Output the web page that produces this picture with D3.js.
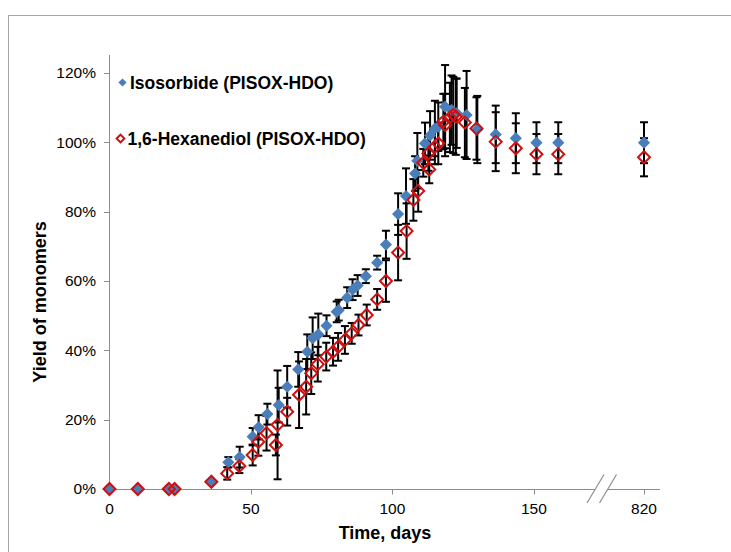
<!DOCTYPE html>
<html>
<head>
<meta charset="utf-8">
<script src="https://cdn.jsdelivr.net/npm/d3@7/dist/d3.min.js"></script>
<style>
    body { margin: 0; background: #fff; }
    #chart { width: 731px; height: 552px; }
    text { font-family: "Liberation Sans", Arial, sans-serif; }
</style>
</head>
<body>
<div id="chart"></div>
<script>
// Isosorbide (PISOX-HDO): day, yield %, error bar %
var iso_days = [0, 10, 20.5, 23, 36, 42, 46, 50.6, 52.7, 55.8, 59.8, 62.8, 66.7, 69.9, 71.8, 73.8, 76.7, 80.3, 81,
    84, 85.9, 87.7, 90.6, 94.6, 97.7, 102, 104.8, 108, 108.8, 111.5, 113.3, 115, 116.2, 118.6, 120.9, 122.7,
    126.2, 130, 136.5, 143.6, 150.9, 158.6, 820];
var iso_yield = [0, 0, 0, 0, 2, 7.7, 9.2, 15.1, 17.8, 21.6, 24.2, 29.5, 34.5, 39.6, 43.5, 44.6, 47.1, 51.1, 51.6,
    55.2, 57.5, 58.7, 61.4, 65.3, 70.5, 79.3, 84.5, 91, 94.7, 99.7, 102, 104, 104.5, 110.3, 109.3, 108.4,
    107.9, 103.7, 102.3, 101.2, 99.9, 99.9, 99.9];
var iso_err = [0, 0, 0, 0, 0, 1.5, 3, 2.5, 3.5, 3, 5, 6, 5, 5, 6, 6, 3, 3, 3,
    3, 3, 3, 2, 2, 4, 6, 8, 5, 8, 6, 7, 8, 7, 12, 10, 10,
    12.7, 9.7, 8.3, 7.2, 5.9, 5.9, 5.9];

// 1,6-Hexanediol (PISOX-HDO)
var hdo_days = [0, 10, 21, 23, 36, 41.6, 45.9, 50.6, 52.6, 55.5, 58.8, 59.4, 62.8, 67, 69.5, 71.3, 73.6, 76.6, 79,
    80.8, 83.2, 85.6, 88, 90.9, 94.6, 97.7, 102, 105, 107.4, 109.1, 110.9, 113, 112.7, 115, 116.2, 118, 118.6,
    120.3, 121.5, 122.4, 125.6, 129.7, 136.5, 143.6, 150.9, 158.6, 820];
var hdo_yield = [0, 0, 0, 0, 2.1, 4.5, 6.6, 9.8, 13.6, 16.1, 12.7, 18.5, 22.3, 27.2, 29.5, 33.4, 36, 38.2, 39.6,
    41, 43, 44.9, 47.3, 50.2, 54.7, 60, 68.2, 74.4, 83.4, 86, 94.1, 92.2, 96.8, 98.7, 99.7, 106, 105,
    107.2, 107.9, 107.4, 105.7, 104, 100.2, 98.3, 96.6, 96.6, 95.7];
var hdo_err = [0, 0, 0, 0, 0, 1.8, 2, 3, 4, 5, 3, 15.7, 4, 9.6, 8, 6, 5, 4, 4,
    4, 4, 3, 3, 3, 3, 6, 8, 8, 6, 6, 4, 4, 5, 5, 6, 8, 9,
    10, 11, 11, 10, 9, 8.5, 7.2, 5.8, 5.8, 5.5];

var x_ticks = [0, 50, 100, 150, 820];
var y_ticks = [0, 20, 40, 60, 80, 100, 120];

var series = [
    { name: "Isosorbide (PISOX-HDO)", days: iso_days, vals: iso_yield, errs: iso_err },
    { name: "1,6-Hexanediol (PISOX-HDO)", days: hdo_days, vals: hdo_yield, errs: hdo_err }
];

function draw_chart() {
    const W = 731, H = 552;
    const BLUE = "#4a7ebb";
    const RED = "#d01010";
    const AXIS = "#8c8c8c";

    var svg = d3.select("#chart").append("svg")
        .attr("width", W)
        .attr("height", H);

    // outer chart frame, runs off the page on the right and bottom
    svg.append("rect")
        .attr("x", 8.5).attr("y", 15.5)
        .attr("width", 900).attr("height", 700)
        .attr("fill", "#fff")
        .attr("stroke", "#a6a6a6");

    // broken x axis: 0..173 days then a short piece around 820
    var x = d3.scaleLinear()
        .domain([0, 173, 805, 826])
        .range([109.5, 599, 604, 660]);
    var y = d3.scaleLinear()
        .domain([0, 125.2])
        .range([489, 55]);

    var y0 = Math.round(y(0)) + 0.5;

    // y axis
    svg.append("line")
        .attr("x1", 109.5).attr("x2", 109.5)
        .attr("y1", y(125.2)).attr("y2", y0)
        .attr("stroke", AXIS);
    svg.selectAll(".ytick")
        .data(y_ticks)
        .enter().append("line")
        .attr("x1", 104).attr("x2", 109.5)
        .attr("y1", function (d) { return Math.round(y(d)) + 0.5; })
        .attr("y2", function (d) { return Math.round(y(d)) + 0.5; })
        .attr("stroke", AXIS);
    svg.selectAll(".ylab")
        .data(y_ticks)
        .enter().append("text")
        .attr("x", 96)
        .attr("y", function (d) { return y(d); })
        .attr("dy", "0.35em")
        .attr("text-anchor", "end")
        .attr("font-size", "15.5px")
        .text(function (d) { return d + "%"; });

    // x axis with the gap for the break
    svg.append("line")
        .attr("x1", 109.5).attr("x2", 595)
        .attr("y1", y0).attr("y2", y0)
        .attr("stroke", AXIS);
    svg.append("line")
        .attr("x1", 607.5).attr("x2", 660)
        .attr("y1", y0).attr("y2", y0)
        .attr("stroke", AXIS);
    svg.selectAll(".xtick")
        .data(x_ticks)
        .enter().append("line")
        .attr("x1", function (d) { return Math.round(x(d)) + 0.5; })
        .attr("x2", function (d) { return Math.round(x(d)) + 0.5; })
        .attr("y1", y0).attr("y2", y0 + 5)
        .attr("stroke", AXIS);
    svg.selectAll(".xlab")
        .data(x_ticks)
        .enter().append("text")
        .attr("x", function (d) { return x(d); })
        .attr("y", 514)
        .attr("text-anchor", "middle")
        .attr("font-size", "15.5px")
        .text(function (d) { return d; });

    // break marks
    [587, 599.5].forEach(function (bx) {
        svg.append("line")
            .attr("x1", bx).attr("y1", 503)
            .attr("x2", bx + 17).attr("y2", 474.5)
            .attr("stroke", AXIS)
            .attr("stroke-width", 1.2);
    });

    // axis titles
    svg.append("text")
        .attr("x", 385).attr("y", 539)
        .attr("text-anchor", "middle")
        .attr("font-size", "18px")
        .attr("font-weight", "bold")
        .text("Time, days");
    svg.append("text")
        .attr("transform", "translate(46,302) rotate(-90)")
        .attr("text-anchor", "middle")
        .attr("font-size", "18px")
        .attr("font-weight", "bold")
        .text("Yield of monomers");

    // error bars
    series.forEach(function (s) {
        var pts = s.days.map(function (d, i) { return [d, s.vals[i], s.errs[i]]; })
            .filter(function (p) { return p[2] > 0; });
        var g = svg.append("g")
            .attr("stroke", "#000")
            .attr("stroke-width", 2);
        g.selectAll("line.v")
            .data(pts).enter().append("line")
            .attr("x1", function (p) { return x(p[0]); })
            .attr("x2", function (p) { return x(p[0]); })
            .attr("y1", function (p) { return y(p[1] - p[2]); })
            .attr("y2", function (p) { return y(p[1] + p[2]); });
        [-1, 1].forEach(function (sg) {
            g.selectAll("line.c" + sg)
                .data(pts).enter().append("line")
                .attr("x1", function (p) { return x(p[0]) - 4; })
                .attr("x2", function (p) { return x(p[0]) + 4; })
                .attr("y1", function (p) { return y(p[1] + sg * p[2]); })
                .attr("y2", function (p) { return y(p[1] + sg * p[2]); });
        });
    });

    var diamond = d3.symbol().type(d3.symbolSquare);

    // Isosorbide: filled blue diamonds
    svg.selectAll(".iso")
        .data(iso_days)
        .enter().append("path")
        .attr("d", diamond.size(74)())
        .attr("transform", function (d, i) { return "translate(" + x(d) + "," + y(iso_yield[i]) + ") rotate(45)"; })
        .attr("fill", BLUE);

    // Hexanediol: open red diamonds
    svg.selectAll(".hdo")
        .data(hdo_days)
        .enter().append("path")
        .attr("d", diamond.size(72)())
        .attr("transform", function (d, i) { return "translate(" + x(d) + "," + y(hdo_yield[i]) + ") rotate(45)"; })
        .attr("fill", "none")
        .attr("stroke", RED)
        .attr("stroke-width", 2);

    // legend
    var leg = [
        { y: 82.5, fill: BLUE, stroke: "none" },
        { y: 138.5, fill: "#fff", stroke: RED }
    ];
    leg.forEach(function (l, i) {
        svg.append("path")
            .attr("d", diamond.size(i ? 30 : 34)())
            .attr("transform", "translate(" + (i ? 120.5 : 122.5) + "," + l.y + ") rotate(45)")
            .attr("fill", l.fill)
            .attr("stroke", l.stroke)
            .attr("stroke-width", 2);
        svg.append("text")
            .attr("x", i ? 127.5 : 130)
            .attr("y", l.y)
            .attr("dy", "0.35em")
            .attr("font-size", "17.5px")
            .attr("font-weight", "bold")
            .text(series[i].name);
    });
}

draw_chart();
</script>
</body>
</html>
